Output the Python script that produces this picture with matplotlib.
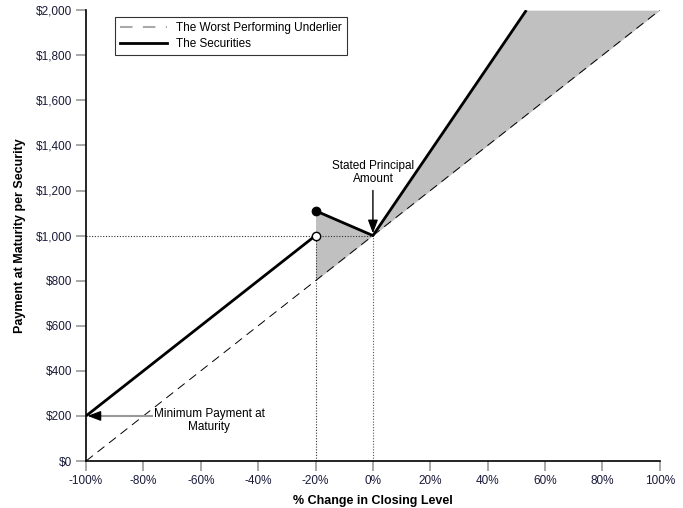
import numpy as np
import matplotlib.pyplot as plt
from matplotlib.ticker import FuncFormatter

plt.rcParams['font.family'] = ['Liberation Sans', 'DejaVu Sans']

# data
underlier_x = [-100, 100]
underlier_y = [0, 2000]

sec_low_x = [-100, -20]
sec_low_y = [200, 1000]
sec_high_x = [-20, 0, 53.5]
sec_high_y = [1110, 1000, 2000]

x_ticks = [-100, -80, -60, -40, -20, 0, 20, 40, 60, 80, 100]
y_ticks = [0, 200, 400, 600, 800, 1000, 1200, 1400, 1600, 1800, 2000]

tick_color = '#1a1a3a'

fig = plt.figure(figsize=(6.83, 5.08), dpi=100)
ax = fig.add_axes([0.126, 0.0925, 0.840, 0.8875])

# shaded regions between securities and underlier
xs1 = np.array([-20, 0])
ax.fill_between(xs1, np.interp(xs1, sec_high_x, sec_high_y),
                np.interp(xs1, underlier_x, underlier_y),
                color='#c0c0c0', lw=0)
xs2 = np.array([0, 53.5, 100])
top2 = np.minimum(np.interp(xs2, sec_high_x, sec_high_y, right=2000), 2000)
ax.fill_between(xs2, top2, np.interp(xs2, underlier_x, underlier_y),
                color='#c0c0c0', lw=0)

# reference dotted lines
ax.plot([-100, 0], [1000, 1000], ls=(0, (1, 1.5)), color='#333333', lw=0.8)
ax.plot([-20, -20], [0, 1000], ls=(0, (1, 1.5)), color='#333333', lw=0.8)
ax.plot([0, 0], [0, 1000], ls=(0, (1, 1.5)), color='#555555', lw=0.8)

ax.plot(underlier_x, underlier_y, color='black', lw=0.7, dashes=(9, 6))
ax.plot(sec_low_x, sec_low_y, color='black', lw=2, solid_capstyle='butt')
ax.plot(sec_high_x, sec_high_y, color='black', lw=2, solid_capstyle='butt')

ax.plot([-20], [1000], 'o', mfc='white', mec='black', ms=6, mew=1, zorder=5)
ax.plot([-20], [1110], 'o', color='black', ms=6, zorder=5)

# legend proxies
l1, = ax.plot([], [], color='#aaaaaa', lw=1.5, dashes=(6, 5))
l2, = ax.plot([], [], color='black', lw=2)
leg = ax.legend([l1, l2], ['The Worst Performing Underlier', 'The Securities'],
                loc='upper left', bbox_to_anchor=(0.04, 0.998), fontsize=8.5,
                frameon=True, fancybox=False, edgecolor='black',
                handlelength=4.0, borderpad=0.4, labelspacing=0.35)
leg.get_frame().set_linewidth(0.8)

# annotations
ax.plot([-95, -77], [200, 200], color='#999999', lw=1.5)
ax.annotate('', xy=(-99.5, 200), xytext=(-95, 200),
            arrowprops=dict(arrowstyle='-|>,head_length=0.8,head_width=0.3',
                            color='black', lw=1, shrinkA=0, shrinkB=0))
ax.text(-57, 180, 'Minimum Payment at\nMaturity', ha='center', va='center',
        fontsize=8.5)

ax.annotate('', xy=(0, 1010), xytext=(0, 1200),
            arrowprops=dict(arrowstyle='-|>,head_length=0.8,head_width=0.3',
                            color='black', lw=1, shrinkA=0, shrinkB=0))
ax.text(0, 1280, 'Stated Principal\nAmount', ha='center', va='center',
        fontsize=8.5)

ax.set_xlim(-100, 100)
ax.set_ylim(0, 2000)
ax.set_xticks(x_ticks)
ax.set_yticks(y_ticks)
ax.xaxis.set_major_formatter(FuncFormatter(lambda v, p: f'{v:.0f}%'))
ax.yaxis.set_major_formatter(FuncFormatter(lambda v, p: f'${v:,.0f}'))
ax.tick_params(direction='out', length=7, width=1.2, color='#999999',
               labelsize=8.5, labelcolor=tick_color, pad=3)

for s in ['top', 'right']:
    ax.spines[s].set_visible(False)
for s in ['left', 'bottom']:
    ax.spines[s].set_linewidth(1.2)

ax.set_xlabel('% Change in Closing Level', fontsize=9, fontweight='bold',
              labelpad=6)
ax.set_ylabel('Payment at Maturity per Security', fontsize=9,
              fontweight='bold', labelpad=7)

fig.savefig('out.png', dpi=100)
